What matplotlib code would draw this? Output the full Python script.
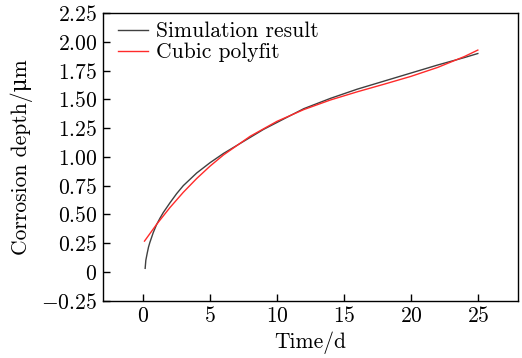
import matplotlib
matplotlib.use("Agg")
import matplotlib.pyplot as plt
from matplotlib.ticker import FixedLocator, FixedFormatter

plt.rcParams['font.family'] = ['cmr10', 'DejaVu Serif']
plt.rcParams['mathtext.fontset'] = 'cm'
plt.rcParams['axes.unicode_minus'] = True
plt.rcParams['axes.formatter.use_mathtext'] = True

# Simulation result
sim_t = [0.15, 0.2, 0.3, 0.4, 0.5, 0.75, 1.0, 1.25, 1.5, 2, 2.5, 3, 3.5, 4, 4.5, 5, 6, 7, 8,
         9, 10, 12, 14, 16, 18, 20, 22, 24, 25]
sim_v = [0.03, 0.10, 0.16, 0.215, 0.255, 0.34, 0.41, 0.465, 0.515, 0.60, 0.68, 0.75, 0.805,
         0.86, 0.905, 0.95, 1.03, 1.10, 1.17, 1.24, 1.30, 1.42, 1.51, 1.59, 1.66, 1.73, 1.80,
         1.865, 1.90]

# Cubic polyfit
fit_t = [0.1, 1, 2, 3, 4, 5, 6, 8, 10, 12, 14, 16, 18, 20, 22, 24, 25]
fit_v = [0.267, 0.412, 0.559, 0.692, 0.812, 0.920, 1.017, 1.180, 1.310, 1.412, 1.496,
         1.567, 1.633, 1.701, 1.779, 1.874, 1.93]

x_ticks = [0, 5, 10, 15, 20, 25]
x_labels = ["$0$", "$5$", "$10$", "$15$", "$20$", "$25$"]
y_ticks = [-0.25, 0, 0.25, 0.5, 0.75, 1.0, 1.25, 1.5, 1.75, 2.0, 2.25]
y_labels = ["$-0.25$", "$0$", "$0.25$", "$0.50$", "$0.75$", "$1.00$", "$1.25$",
            "$1.50$", "$1.75$", "$2.00$", "$2.25$"]

FS = 15.5

fig = plt.figure(figsize=(5.22, 3.58), dpi=100)
ax = fig.add_axes([0.1973, 0.1606, 0.795, 0.8022])

ax.plot(sim_t, sim_v, color='#404040', lw=1.0, label='Simulation result')
ax.plot(fit_t, fit_v, color='#ff2a2a', lw=1.0, label='Cubic polyfit')

ax.set_xlim(-3, 28)
ax.set_ylim(-0.25, 2.25)
ax.xaxis.set_major_locator(FixedLocator(x_ticks))
ax.xaxis.set_major_formatter(FixedFormatter(x_labels))
ax.yaxis.set_major_locator(FixedLocator(y_ticks))
ax.yaxis.set_major_formatter(FixedFormatter(y_labels))
ax.tick_params(direction='in', length=5, width=1, labelsize=FS, top=False, right=False, pad=4)
for s in ax.spines.values():
    s.set_linewidth(1.0)

ax.set_xlabel('Time/d', fontsize=FS, labelpad=4)
ax.set_ylabel('Corrosion depth/μm', fontsize=FS, labelpad=6)

ax.legend(loc='upper left', bbox_to_anchor=(0.015, 1.0), frameon=False, fontsize=FS,
          handlelength=1.4, borderaxespad=0.0, handletextpad=0.35, labelspacing=0.05)

fig.savefig('out.png', dpi=100)
